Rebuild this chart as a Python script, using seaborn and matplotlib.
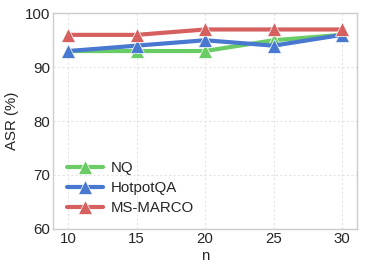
import matplotlib
matplotlib.use("Agg")
import matplotlib.pyplot as plt
import seaborn as sns
import pandas as pd

n_values = [10, 15, 20, 25, 30]
nq = [93, 93, 93, 95, 96]
hotpotqa = [93, 94, 95, 94, 96]
msmarco = [96, 96, 97, 97, 97]
series_names = ["NQ", "HotpotQA", "MS-MARCO"]
y_ticks = [60, 70, 80, 90, 100]

sns.set_theme(style="whitegrid")
plt.rcParams['font.family'] = ['Liberation Sans', 'DejaVu Sans']

df = pd.DataFrame({
    "n": n_values * 3,
    "ASR": nq + hotpotqa + msmarco,
    "dataset": [series_names[0]] * 5 + [series_names[1]] * 5 + [series_names[2]] * 5,
})

pal = sns.color_palette("muted")
colors = {"NQ": pal[2], "HotpotQA": pal[0], "MS-MARCO": pal[3]}

FS = 10.8
fig, ax = plt.subplots(figsize=(3.65, 2.72), dpi=100)
sns.lineplot(data=df, x="n", y="ASR", hue="dataset", palette=colors,
             marker="^", markersize=10, linewidth=3, markeredgewidth=0.5,
             ax=ax, legend=True)

ax.set_ylim(60, 100)
ax.set_xlim(8.9, 31.1)
ax.set_yticks(y_ticks)
ax.set_xticks(n_values)
ax.set_xlabel("n", fontsize=FS, labelpad=2)
ax.set_ylabel("ASR (%)", fontsize=FS, labelpad=4)
ax.tick_params(labelsize=FS, pad=2.5, length=0)
ax.grid(True, linestyle=(0, (2, 2)), color="#e3e3e3", linewidth=0.8)
for s in ax.spines.values():
    s.set_color("#cccccc")
    s.set_linewidth(1)

leg = ax.legend(frameon=False, loc="lower left", fontsize=FS, handlelength=2.4,
                handletextpad=0.5, labelspacing=0.4)

fig.subplots_adjust(left=0.146, right=0.978, top=0.951, bottom=0.159)
fig.savefig("out.png", dpi=100)
